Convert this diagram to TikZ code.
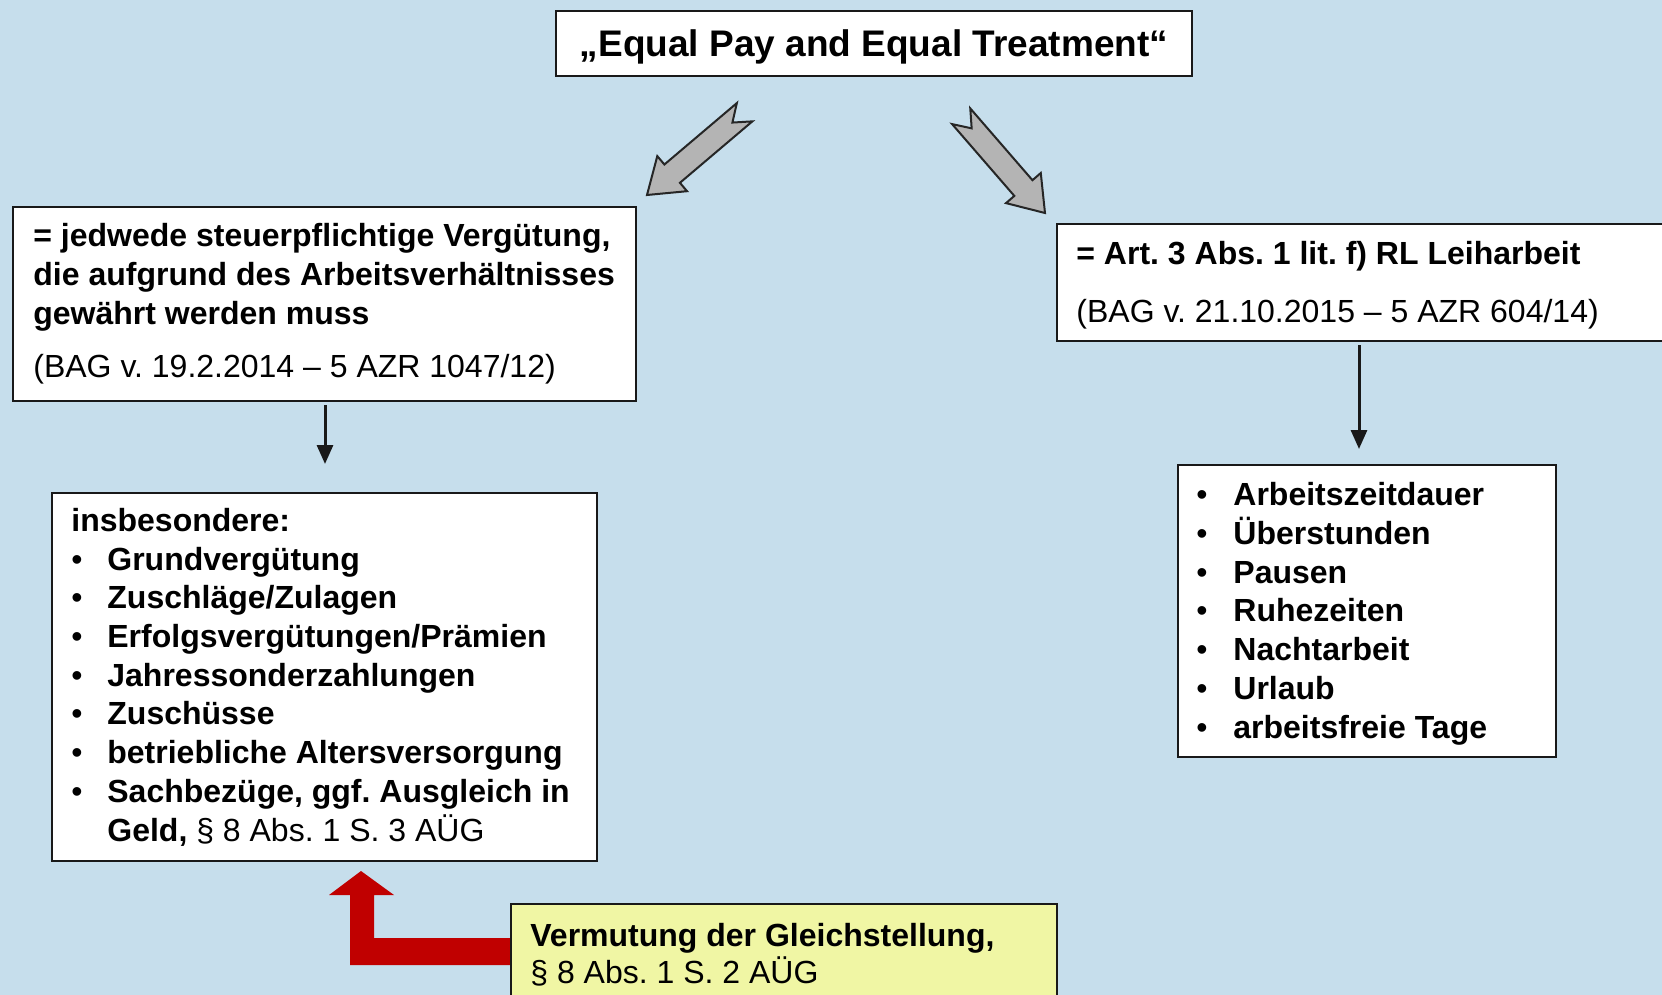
\documentclass[tikz,border=0pt]{standalone}
\usepackage{fontspec}
\setmainfont{Liberation Sans}
\usetikzlibrary{arrows.meta}
\frenchspacing
\definecolor{bgblue}{RGB}{198,222,236}
\definecolor{yell}{RGB}{240,246,164}
\definecolor{redarrow}{RGB}{192,0,0}
\definecolor{grayarrow}{RGB}{180,180,180}
\newcommand{\bul}[1]{\makebox[18pt][l]{\textbullet}\textbf{#1}}
\newcommand{\bulr}[1]{\makebox[18.5pt][l]{\textbullet}\textbf{#1}}
\tikzset{
  box/.style={draw=black!90, line width=1pt, fill=white, inner sep=0pt, anchor=center},
  txt/.style={inner sep=0pt, anchor=base west, align=left, font=\frenchspacing\fontsize{16}{19.35}\selectfont},
  conn/.style={draw=black!90, line width=1.5pt, -{Triangle[length=9.5pt,width=8pt]}},
  bigarrow/.style={fill=grayarrow, draw=black!85, line width=1pt, line join=miter},
}
\begin{document}
\begin{tikzpicture}[x=0.5pt,y=-0.5pt]
\useasboundingbox (0,0) rectangle (1662,995);
\clip (0,0) rectangle (1662,995);
\fill[bgblue] (0,0) rectangle (1662,995);

% title
\node[box, minimum width=318pt, minimum height=32.7pt,
      font=\bfseries\fontsize{18.5}{22}\selectfont] (title) at (874,43.3)
      {\raisebox{-2pt}[\height][\depth]{„Equal Pay and Equal Treatment“}};

% gray arrows
\begin{scope}[shift={(647,195)}, rotate=40.3]
  \draw[bigarrow] (0,0) -- (33,23) -- (33,12) -- (128,12) -- (112,0) -- (128,-12) -- (33,-12) -- (33,-23) -- cycle;
\end{scope}
\begin{scope}[shift={(1045,213)}, rotate=130.9]
  \draw[bigarrow] (0,0) -- (33,23) -- (33,12) -- (128,12) -- (112,0) -- (128,-12) -- (33,-12) -- (33,-23) -- cycle;
\end{scope}

% left upper box (text anchored at the baseline of its last line)
\node[box, minimum width=311.7pt, minimum height=97pt] (b1) at (324.4,304) {};
\node[txt] (t1) at (33,377) {\textbf{= jedwede steuerpflichtige Vergütung,}\\
  \textbf{die aufgrund des Arbeitsverhältnisses}\\
  \textbf{gewährt werden muss}\\[7pt]
  (BAG v. 19.2.2014 – 5 AZR 1047/12)};

% right upper box
\node[box, minimum width=306.5pt, minimum height=58.5pt] (b2) at (1363.5,282.5) {};
\node[txt] (t2) at (1076,322) {\textbf{= Art. 3 Abs. 1 lit. f) RL Leiharbeit}\\[9.5pt]
  (BAG v. 21.10.2015 – 5 AZR 604/14)};

% left lower box
\node[box, minimum width=272.5pt, minimum height=184pt] (b3) at (324.5,677) {};
\node[txt] (t3) at (71,841) {\textbf{insbesondere:}\\
  \bul{Grundvergütung}\\
  \bul{Zuschläge/Zulagen}\\
  \bul{Erfolgsvergütungen/Prämien}\\
  \bul{Jahressonderzahlungen}\\
  \bul{Zuschüsse}\\
  \bul{betriebliche Altersversorgung}\\
  \bul{Sachbezüge, ggf. Ausgleich in}\\
  \hspace*{18pt}\textbf{Geld,} § 8 Abs. 1 S. 3 AÜG};

% right lower box
\node[box, minimum width=189pt, minimum height=146pt] (b4) at (1367,611) {};
\node[txt] (t4) at (1196,738) {\bulr{Arbeitszeitdauer}\\
  \bulr{Überstunden}\\
  \bulr{Pausen}\\
  \bulr{Ruhezeiten}\\
  \bulr{Nachtarbeit}\\
  \bulr{Urlaub}\\
  \bulr{arbeitsfreie Tage}};

% connectors
\coordinate (l1end) at (325,464);
\coordinate (r1end) at (1359,449);
\draw[conn, shorten <=1.5pt] (b1.south -| l1end) -- (l1end);
\draw[conn, shorten <=1.5pt] (b2.south -| r1end) -- (r1end);

% red arrow
\fill[redarrow] (361,871) -- (394,895) -- (374,895) -- (374,938) -- (511,938) -- (511,965)
  -- (350,965) -- (350,895) -- (329,895) -- cycle;

% yellow box
\node[box, fill=yell, minimum width=273pt, minimum height=50.5pt] (b5) at (784,954.5) {};
\node[txt] (t5) at (530,983) {\textbf{Vermutung der Gleichstellung,}\\[-0.85pt]
  § 8 Abs. 1 S. 2 AÜG};
\end{tikzpicture}
\end{document}
